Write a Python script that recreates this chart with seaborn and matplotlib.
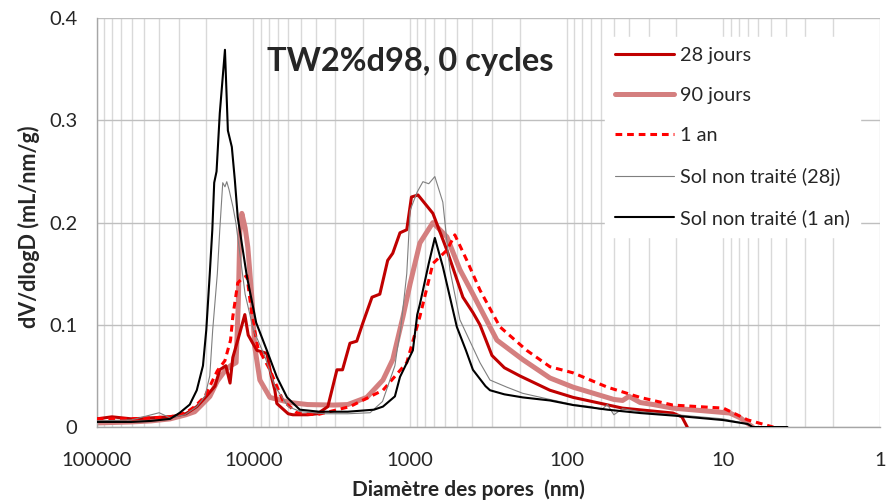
"""
plot.py
Pore size distribution (dV/dlogD) for TW2%d98, 0 cycles.
Writes out.png.
"""

import pandas as pd
import matplotlib.pyplot as plt
import seaborn as sns
from matplotlib.ticker import FixedLocator, NullFormatter

sns.set_style("white")
plt.rcParams["font.family"] = ["Lato", "DejaVu Sans"]

# diameters in nm, values in mL/nm/g
d_28j = [100000, 80000, 60000, 45000, 34000, 27000, 23000, 20000, 17600, 16400,
         15000, 14100, 13540, 12220, 11350, 10800, 10100, 9500, 8200, 7700, 7300,
         7090, 6000, 5600, 4500, 3900, 3350, 2930, 2700, 2420, 2190, 2000, 1750,
         1560, 1390, 1290, 1160, 1050, 980, 890, 715, 582, 460, 397, 358, 300, 250,
         199, 128, 91, 44, 21, 18.4, 17]
v_28j = [0.008, 0.010, 0.008, 0.009, 0.010, 0.013, 0.020, 0.030, 0.040, 0.056,
         0.060, 0.043, 0.068, 0.092, 0.110, 0.090, 0.082, 0.075, 0.072, 0.050, 0.036,
         0.023, 0.013, 0.012, 0.012, 0.013, 0.020, 0.056, 0.056, 0.082, 0.084, 0.102,
         0.127, 0.130, 0.163, 0.170, 0.190, 0.193, 0.225, 0.227, 0.209, 0.173, 0.127,
         0.112, 0.100, 0.070, 0.058, 0.050, 0.036, 0.029, 0.0185, 0.0137, 0.010, 0.0]

d_90j = [100000, 60000, 45000, 34000, 27000, 23700, 20400, 18970, 17000, 15200,
         14000, 12900, 12500, 12220, 11860, 11300, 10860, 10240, 9800, 9100, 7850,
         5860, 4500, 3100, 2500, 1890, 1490, 1290, 1110, 1000, 866, 715, 582, 481,
         397, 279, 191, 128, 91, 50, 44, 40, 34, 28, 21, 9.1, 7.8, 6.5]
v_90j = [0.004, 0.005, 0.006, 0.008, 0.012, 0.015, 0.025, 0.030, 0.045, 0.055,
         0.060, 0.063, 0.120, 0.190, 0.209, 0.195, 0.176, 0.127, 0.078, 0.046, 0.029,
         0.024, 0.022, 0.0215, 0.022, 0.029, 0.046, 0.066, 0.108, 0.140, 0.180, 0.200,
         0.186, 0.154, 0.130, 0.085, 0.066, 0.048, 0.039, 0.027, 0.026, 0.030, 0.024,
         0.022, 0.0185, 0.0137, 0.009, 0.0]

d_1an = [100000, 60000, 45000, 34000, 27000, 23700, 20400, 18970, 17000, 15200,
         14000, 13540, 12590, 11860, 11000, 10240, 9380, 7850, 6490, 5280, 3940,
         2420, 1490, 1050, 866, 715, 582, 518, 434, 358, 267, 180, 128, 91, 55, 34,
         21, 10, 7, 4.8]
v_1an = [0.008, 0.008, 0.009, 0.010, 0.014, 0.020, 0.030, 0.040, 0.055, 0.065,
         0.085, 0.108, 0.141, 0.145, 0.148, 0.110, 0.078, 0.056, 0.026, 0.014, 0.012,
         0.020, 0.036, 0.063, 0.108, 0.160, 0.173, 0.188, 0.163, 0.134, 0.098, 0.075,
         0.059, 0.053, 0.039, 0.029, 0.0215, 0.0185, 0.007, 0.0]

d_nt28 = [100000, 60000, 40000, 34000, 27400, 23000, 20400, 19000, 18200, 17000,
          16400, 15700, 15200, 14800, 14300, 13500, 12950, 11300, 10000, 8500, 7300,
          6000, 5000, 3500, 2500, 1800, 1500, 1250, 1210, 1150, 1050, 1000, 900, 828,
          760, 695, 618, 557, 481, 358, 309, 241, 191, 128, 91, 70, 60, 55, 50, 44,
          34, 20, 10, 7, 6.5]
v_nt28 = [0.006, 0.007, 0.014, 0.009, 0.012, 0.020, 0.030, 0.050, 0.095, 0.150,
          0.193, 0.239, 0.235, 0.240, 0.232, 0.215, 0.200, 0.130, 0.095, 0.070, 0.040,
          0.020, 0.015, 0.013, 0.013, 0.014, 0.025, 0.060, 0.075, 0.095, 0.150, 0.212,
          0.230, 0.240, 0.238, 0.245, 0.220, 0.154, 0.105, 0.063, 0.046, 0.039, 0.033,
          0.027, 0.022, 0.020, 0.017, 0.022, 0.012, 0.018, 0.015, 0.012, 0.008, 0.003,
          0.0]

d_nt1an = [100000, 60000, 45000, 34000, 29500, 25500, 23000, 21000, 20000, 19000,
           18300, 17800, 17200, 16400, 15200, 14560, 13740, 13150, 12590, 11000, 9600,
           8210, 7090, 6100, 5060, 3800, 2500, 1700, 1490, 1250, 1160, 960, 900, 866,
           760, 695, 618, 503, 440, 397, 330, 309, 250, 191, 128, 91, 55, 34, 20, 10, 7,
           6.5, 3.9]
v_nt1an = [0.005, 0.005, 0.006, 0.008, 0.014, 0.022, 0.036, 0.060, 0.095, 0.150,
           0.193, 0.239, 0.250, 0.307, 0.369, 0.290, 0.274, 0.242, 0.205, 0.147, 0.102,
           0.075, 0.049, 0.029, 0.017, 0.015, 0.015, 0.017, 0.020, 0.030, 0.049, 0.075,
           0.110, 0.120, 0.160, 0.185, 0.157, 0.098, 0.075, 0.056, 0.040, 0.036, 0.032,
           0.029, 0.026, 0.0215, 0.017, 0.0137, 0.011, 0.0068, 0.003, 0.0, 0.0]

x_ticks = [100000, 10000, 1000, 100, 10, 1]
x_tick_labels = ["100000", "10000", "1000", "100", "10", "1"]
y_ticks = [0, 0.1, 0.2, 0.3, 0.4]
y_tick_labels = ["0", "0.1", "0.2", "0.3", "0.4"]


def main():
    fig = plt.figure(figsize=(8.88, 5.03), dpi=100)
    ax = fig.add_axes([0.109, 0.151, 0.882, 0.813])

    series = [
        ("90 jours", d_90j, v_90j, dict(color="#D47F7F", lw=3.6, zorder=2)),
        ("28 jours", d_28j, v_28j, dict(color="#C00000", lw=2.2, zorder=3)),
        ("1 an", d_1an, v_1an, dict(color="#FF0000", lw=2.2, dashes=(2.2, 1.6), zorder=4)),
        ("Sol non traité (28j)", d_nt28, v_nt28, dict(color="#7F7F7F", lw=0.8, zorder=5)),
        ("Sol non traité (1 an)", d_nt1an, v_nt1an, dict(color="#000000", lw=1.5, zorder=6)),
    ]
    lines = {}
    for name, d, v, kw in series:
        df = pd.DataFrame({"d": d, "v": v})
        n_before = len(ax.lines)
        sns.lineplot(data=df, x="d", y="v", ax=ax, sort=False, estimator=None,
                     color=kw["color"], lw=kw["lw"], zorder=kw["zorder"])
        ln = ax.lines[n_before]
        if "dashes" in kw:
            ln.set_dashes(kw["dashes"])
        lines[name] = ln

    ax.set_xscale("log")
    ax.set_xlim(100000, 1)
    ax.set_ylim(0, 0.4)

    ax.xaxis.set_major_locator(FixedLocator(x_ticks))
    ax.set_xticks(x_ticks)
    ax.set_xticklabels(x_tick_labels)
    ax.xaxis.set_minor_formatter(NullFormatter())
    ax.set_yticks(y_ticks)
    ax.set_yticklabels(y_tick_labels)

    ax.grid(True, which="major", axis="y", color="#BFBFBF", lw=1.0)
    ax.grid(True, which="both", axis="x", color="#D9D9D9", lw=1.0)
    ax.set_axisbelow(True)

    for s in ["top", "right"]:
        ax.spines[s].set_visible(False)
    for s in ["left", "bottom"]:
        ax.spines[s].set_color("#A6A6A6")
        ax.spines[s].set_linewidth(1.0)
    ax.tick_params(axis="both", which="major", direction="out", length=5,
                   color="#A6A6A6", labelsize=14.5, labelcolor="#262626")
    ax.tick_params(axis="x", which="minor", length=0)
    ax.tick_params(axis="x", which="major", pad=13)
    ax.tick_params(axis="y", which="major", pad=9)

    ax.set_xlabel("Diamètre des pores  (nm)", fontsize=15, fontweight="bold")
    ax.set_ylabel("dV/dlogD (mL/nm/g)", fontsize=15.5, fontweight="bold")
    ax.xaxis.set_label_coords(0.475, -0.128)
    ax.yaxis.set_label_coords(-0.073, 0.49)

    ax.text(0.217, 0.895, "TW2%d98, 0 cycles", transform=ax.transAxes,
            fontsize=23.5, fontweight="bold", va="center", ha="left")

    order = ["28 jours", "90 jours", "1 an", "Sol non traité (28j)", "Sol non traité (1 an)"]
    leg = ax.legend([lines[k] for k in order], order, loc="upper left",
                    bbox_to_anchor=(0.636, 0.979), frameon=True, fontsize=14.3,
                    handlelength=3.0, handletextpad=0.3, labelspacing=1.18,
                    borderpad=0.5, fancybox=False)
    leg.get_frame().set_edgecolor("white")
    leg.get_frame().set_facecolor("white")
    leg.get_frame().set_alpha(1.0)
    leg.set_zorder(10)

    fig.savefig("out.png", dpi=100)
    plt.close(fig)


if __name__ == "__main__":
    main()
